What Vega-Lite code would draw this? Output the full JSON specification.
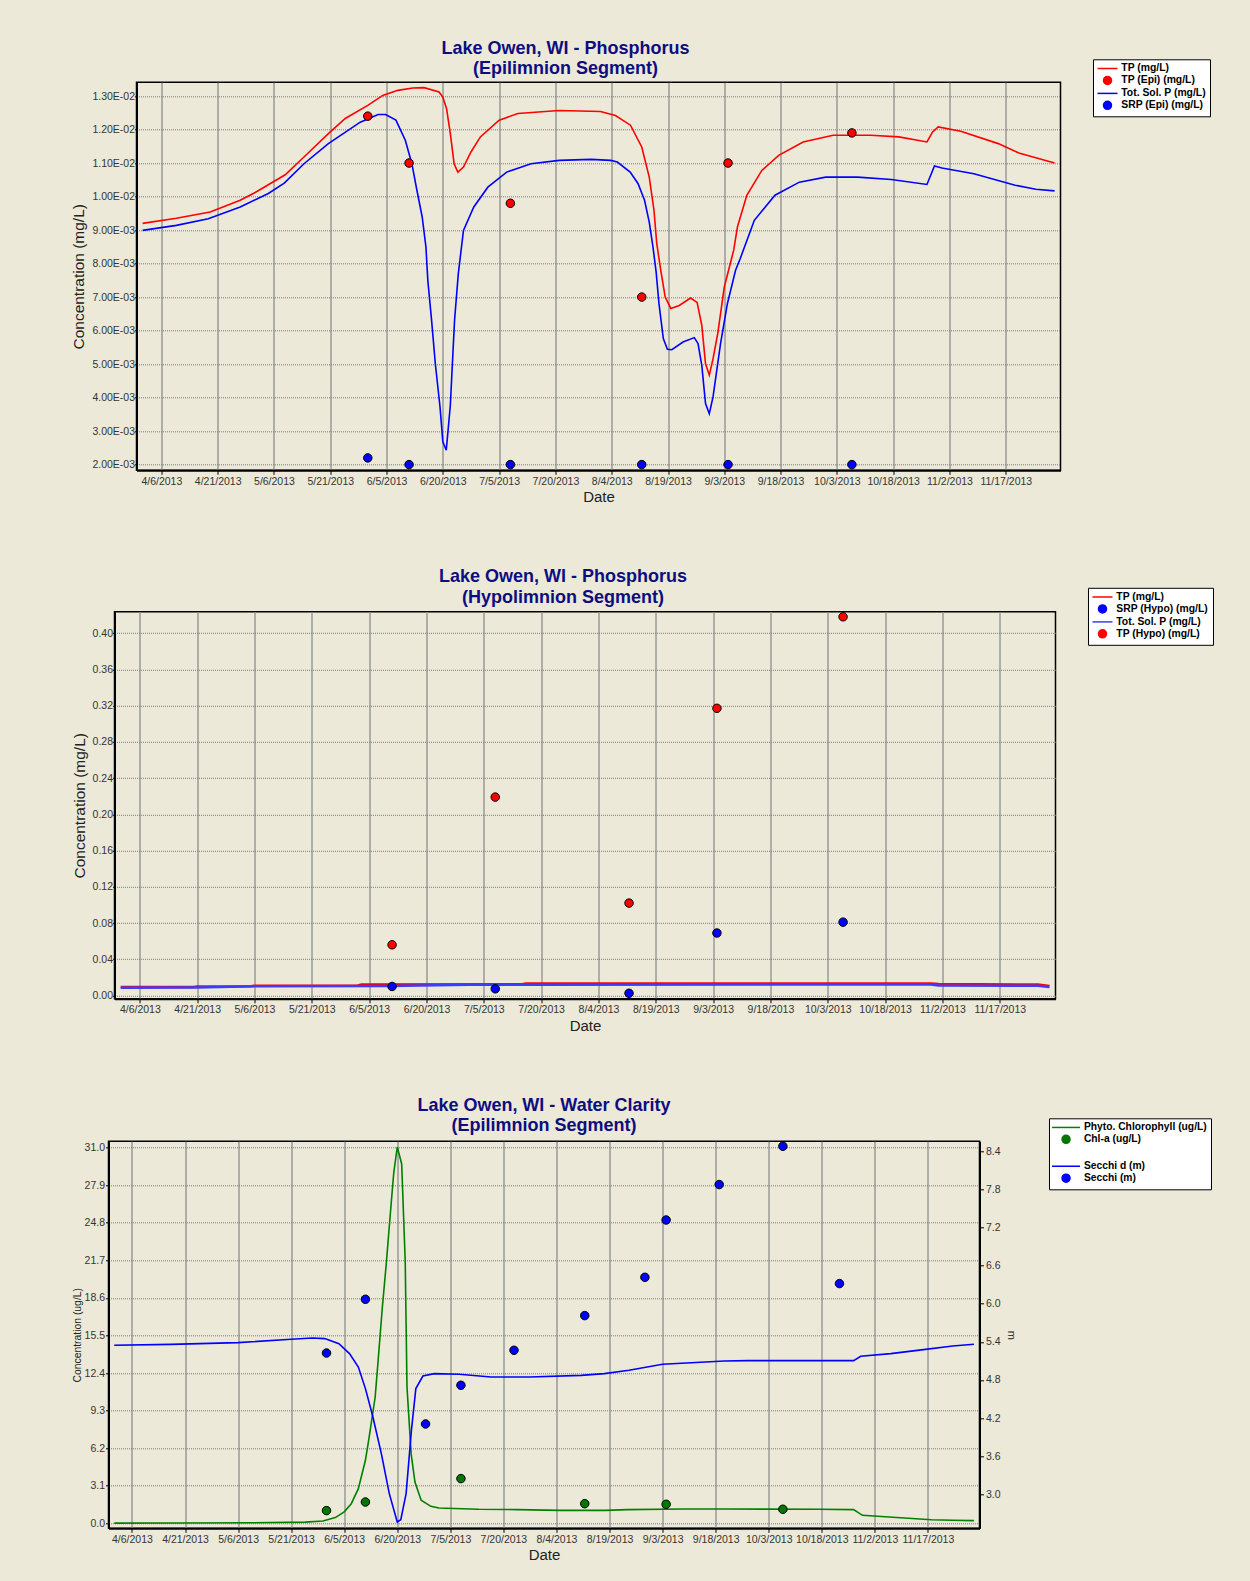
{
  "$schema": "https://vega.github.io/schema/vega-lite/v6.json",
  "background": "#ECE9D8",
  "padding": {"left": 69.5, "top": 38.3, "right": 60, "bottom": 50},
  "spacing": 60.5,
  "resolve": {"scale": {"color": "independent"}, "legend": {"color": "independent"}},
  "vconcat": [
    {"spacing": 0, "hconcat": [
    {"width": 1, "height": 1, "view": {"stroke": null}, "data": {"values": [{"a": 0}]}, "mark": {"type": "point", "opacity": 0, "size": 1}, "encoding": {}},
    {
      "name": "p1",
      "width": 924,
      "height": 388,
      "title": {"text": ["Lake Owen, WI - Phosphorus", "(Epilimnion Segment)"], "dx": -33, "dy": 1},
      "data": {"values": [
        {"d":"2013-04-01","s":"TP (mg/L)","v":0.0092},
        {"d":"2013-04-10","s":"TP (mg/L)","v":0.00935},
        {"d":"2013-04-19","s":"TP (mg/L)","v":0.00954},
        {"d":"2013-04-27","s":"TP (mg/L)","v":0.00989},
        {"d":"2013-05-01","s":"TP (mg/L)","v":0.01012},
        {"d":"2013-05-09","s":"TP (mg/L)","v":0.01065},
        {"d":"2013-05-14","s":"TP (mg/L)","v":0.01118},
        {"d":"2013-05-20T12:00:00Z","s":"TP (mg/L)","v":0.01188},
        {"d":"2013-05-25","s":"TP (mg/L)","v":0.01233},
        {"d":"2013-05-31","s":"TP (mg/L)","v":0.01272},
        {"d":"2013-06-04","s":"TP (mg/L)","v":0.01302},
        {"d":"2013-06-08","s":"TP (mg/L)","v":0.01317},
        {"d":"2013-06-12","s":"TP (mg/L)","v":0.01324},
        {"d":"2013-06-15","s":"TP (mg/L)","v":0.01325},
        {"d":"2013-06-19","s":"TP (mg/L)","v":0.01312},
        {"d":"2013-06-20","s":"TP (mg/L)","v":0.01297},
        {"d":"2013-06-21","s":"TP (mg/L)","v":0.01262},
        {"d":"2013-06-22","s":"TP (mg/L)","v":0.01188},
        {"d":"2013-06-23","s":"TP (mg/L)","v":0.01098},
        {"d":"2013-06-24","s":"TP (mg/L)","v":0.01073},
        {"d":"2013-06-25T12:00:00Z","s":"TP (mg/L)","v":0.01088},
        {"d":"2013-06-27T12:00:00Z","s":"TP (mg/L)","v":0.01133},
        {"d":"2013-06-30","s":"TP (mg/L)","v":0.01178},
        {"d":"2013-07-05","s":"TP (mg/L)","v":0.01228},
        {"d":"2013-07-10","s":"TP (mg/L)","v":0.01248},
        {"d":"2013-07-21","s":"TP (mg/L)","v":0.01257},
        {"d":"2013-08-01","s":"TP (mg/L)","v":0.01254},
        {"d":"2013-08-05","s":"TP (mg/L)","v":0.01242},
        {"d":"2013-08-09","s":"TP (mg/L)","v":0.01213},
        {"d":"2013-08-12","s":"TP (mg/L)","v":0.01148},
        {"d":"2013-08-14","s":"TP (mg/L)","v":0.01058},
        {"d":"2013-08-15T06:00:00Z","s":"TP (mg/L)","v":0.0096},
        {"d":"2013-08-16","s":"TP (mg/L)","v":0.0086},
        {"d":"2013-08-17","s":"TP (mg/L)","v":0.00785},
        {"d":"2013-08-18T06:00:00Z","s":"TP (mg/L)","v":0.007},
        {"d":"2013-08-19T18:00:00Z","s":"TP (mg/L)","v":0.00666},
        {"d":"2013-08-22","s":"TP (mg/L)","v":0.00675},
        {"d":"2013-08-25","s":"TP (mg/L)","v":0.00697},
        {"d":"2013-08-26T18:00:00Z","s":"TP (mg/L)","v":0.00684},
        {"d":"2013-08-28","s":"TP (mg/L)","v":0.00616},
        {"d":"2013-08-29","s":"TP (mg/L)","v":0.00501},
        {"d":"2013-08-30","s":"TP (mg/L)","v":0.00467},
        {"d":"2013-08-31","s":"TP (mg/L)","v":0.00516},
        {"d":"2013-09-01T06:00:00Z","s":"TP (mg/L)","v":0.00591},
        {"d":"2013-09-03","s":"TP (mg/L)","v":0.0073},
        {"d":"2013-09-05T12:00:00Z","s":"TP (mg/L)","v":0.0084},
        {"d":"2013-09-06T12:00:00Z","s":"TP (mg/L)","v":0.00909},
        {"d":"2013-09-09","s":"TP (mg/L)","v":0.01004},
        {"d":"2013-09-13","s":"TP (mg/L)","v":0.01078},
        {"d":"2013-09-17T12:00:00Z","s":"TP (mg/L)","v":0.01123},
        {"d":"2013-09-24","s":"TP (mg/L)","v":0.01163},
        {"d":"2013-10-02","s":"TP (mg/L)","v":0.01183},
        {"d":"2013-10-12","s":"TP (mg/L)","v":0.01183},
        {"d":"2013-10-19T12:00:00Z","s":"TP (mg/L)","v":0.01178},
        {"d":"2013-10-27","s":"TP (mg/L)","v":0.01163},
        {"d":"2013-10-28T12:00:00Z","s":"TP (mg/L)","v":0.01193},
        {"d":"2013-10-30","s":"TP (mg/L)","v":0.01208},
        {"d":"2013-11-05","s":"TP (mg/L)","v":0.01195},
        {"d":"2013-11-15","s":"TP (mg/L)","v":0.01158},
        {"d":"2013-11-20T12:00:00Z","s":"TP (mg/L)","v":0.0113},
        {"d":"2013-11-25","s":"TP (mg/L)","v":0.01116},
        {"d":"2013-11-30","s":"TP (mg/L)","v":0.011},
        {"d":"2013-04-01","s":"Tot. Sol. P (mg/L)","v":0.00899},
        {"d":"2013-04-10","s":"Tot. Sol. P (mg/L)","v":0.00914},
        {"d":"2013-04-18T12:00:00Z","s":"Tot. Sol. P (mg/L)","v":0.00934},
        {"d":"2013-04-27","s":"Tot. Sol. P (mg/L)","v":0.00969},
        {"d":"2013-05-04T12:00:00Z","s":"Tot. Sol. P (mg/L)","v":0.01009},
        {"d":"2013-05-08T18:00:00Z","s":"Tot. Sol. P (mg/L)","v":0.0104},
        {"d":"2013-05-14","s":"Tot. Sol. P (mg/L)","v":0.01098},
        {"d":"2013-05-20T12:00:00Z","s":"Tot. Sol. P (mg/L)","v":0.01158},
        {"d":"2013-05-29","s":"Tot. Sol. P (mg/L)","v":0.01222},
        {"d":"2013-06-02T18:00:00Z","s":"Tot. Sol. P (mg/L)","v":0.01245},
        {"d":"2013-06-04T18:00:00Z","s":"Tot. Sol. P (mg/L)","v":0.01245},
        {"d":"2013-06-07T12:00:00Z","s":"Tot. Sol. P (mg/L)","v":0.01228},
        {"d":"2013-06-10","s":"Tot. Sol. P (mg/L)","v":0.01168},
        {"d":"2013-06-11T18:00:00Z","s":"Tot. Sol. P (mg/L)","v":0.01098},
        {"d":"2013-06-13","s":"Tot. Sol. P (mg/L)","v":0.01024},
        {"d":"2013-06-14T12:00:00Z","s":"Tot. Sol. P (mg/L)","v":0.00939},
        {"d":"2013-06-15T12:00:00Z","s":"Tot. Sol. P (mg/L)","v":0.00849},
        {"d":"2013-06-16","s":"Tot. Sol. P (mg/L)","v":0.0075},
        {"d":"2013-06-17","s":"Tot. Sol. P (mg/L)","v":0.00631},
        {"d":"2013-06-18","s":"Tot. Sol. P (mg/L)","v":0.00501},
        {"d":"2013-06-19T06:00:00Z","s":"Tot. Sol. P (mg/L)","v":0.00372},
        {"d":"2013-06-20","s":"Tot. Sol. P (mg/L)","v":0.00268},
        {"d":"2013-06-20T22:00:00Z","s":"Tot. Sol. P (mg/L)","v":0.00243},
        {"d":"2013-06-22","s":"Tot. Sol. P (mg/L)","v":0.00377},
        {"d":"2013-06-23T03:00:00Z","s":"Tot. Sol. P (mg/L)","v":0.00631},
        {"d":"2013-06-24T03:00:00Z","s":"Tot. Sol. P (mg/L)","v":0.0077},
        {"d":"2013-06-25T12:00:00Z","s":"Tot. Sol. P (mg/L)","v":0.00899},
        {"d":"2013-06-28T06:00:00Z","s":"Tot. Sol. P (mg/L)","v":0.00969},
        {"d":"2013-07-02","s":"Tot. Sol. P (mg/L)","v":0.01028},
        {"d":"2013-07-07","s":"Tot. Sol. P (mg/L)","v":0.01073},
        {"d":"2013-07-13T12:00:00Z","s":"Tot. Sol. P (mg/L)","v":0.01098},
        {"d":"2013-07-21","s":"Tot. Sol. P (mg/L)","v":0.01108},
        {"d":"2013-07-29T12:00:00Z","s":"Tot. Sol. P (mg/L)","v":0.01111},
        {"d":"2013-08-03T18:00:00Z","s":"Tot. Sol. P (mg/L)","v":0.01108},
        {"d":"2013-08-05T12:00:00Z","s":"Tot. Sol. P (mg/L)","v":0.01103},
        {"d":"2013-08-08T22:00:00Z","s":"Tot. Sol. P (mg/L)","v":0.01073},
        {"d":"2013-08-11","s":"Tot. Sol. P (mg/L)","v":0.01039},
        {"d":"2013-08-12T18:00:00Z","s":"Tot. Sol. P (mg/L)","v":0.00989},
        {"d":"2013-08-14","s":"Tot. Sol. P (mg/L)","v":0.00924},
        {"d":"2013-08-15","s":"Tot. Sol. P (mg/L)","v":0.00849},
        {"d":"2013-08-15T20:00:00Z","s":"Tot. Sol. P (mg/L)","v":0.00775},
        {"d":"2013-08-16T14:00:00Z","s":"Tot. Sol. P (mg/L)","v":0.00681},
        {"d":"2013-08-17T18:00:00Z","s":"Tot. Sol. P (mg/L)","v":0.00576},
        {"d":"2013-08-18T20:00:00Z","s":"Tot. Sol. P (mg/L)","v":0.00544},
        {"d":"2013-08-20","s":"Tot. Sol. P (mg/L)","v":0.00543},
        {"d":"2013-08-23","s":"Tot. Sol. P (mg/L)","v":0.00566},
        {"d":"2013-08-26","s":"Tot. Sol. P (mg/L)","v":0.00579},
        {"d":"2013-08-27","s":"Tot. Sol. P (mg/L)","v":0.00561},
        {"d":"2013-08-28","s":"Tot. Sol. P (mg/L)","v":0.00496},
        {"d":"2013-08-29","s":"Tot. Sol. P (mg/L)","v":0.00382},
        {"d":"2013-08-30","s":"Tot. Sol. P (mg/L)","v":0.00352},
        {"d":"2013-08-31","s":"Tot. Sol. P (mg/L)","v":0.00402},
        {"d":"2013-09-01","s":"Tot. Sol. P (mg/L)","v":0.00482},
        {"d":"2013-09-02","s":"Tot. Sol. P (mg/L)","v":0.00561},
        {"d":"2013-09-03T20:00:00Z","s":"Tot. Sol. P (mg/L)","v":0.00681},
        {"d":"2013-09-06","s":"Tot. Sol. P (mg/L)","v":0.0078},
        {"d":"2013-09-07T06:00:00Z","s":"Tot. Sol. P (mg/L)","v":0.00815},
        {"d":"2013-09-11","s":"Tot. Sol. P (mg/L)","v":0.00929},
        {"d":"2013-09-16T12:00:00Z","s":"Tot. Sol. P (mg/L)","v":0.01004},
        {"d":"2013-09-23","s":"Tot. Sol. P (mg/L)","v":0.01043},
        {"d":"2013-09-30","s":"Tot. Sol. P (mg/L)","v":0.01058},
        {"d":"2013-10-08T12:00:00Z","s":"Tot. Sol. P (mg/L)","v":0.01058},
        {"d":"2013-10-17T12:00:00Z","s":"Tot. Sol. P (mg/L)","v":0.01051},
        {"d":"2013-10-27","s":"Tot. Sol. P (mg/L)","v":0.01036},
        {"d":"2013-10-29","s":"Tot. Sol. P (mg/L)","v":0.01091},
        {"d":"2013-10-31","s":"Tot. Sol. P (mg/L)","v":0.01085},
        {"d":"2013-11-08T12:00:00Z","s":"Tot. Sol. P (mg/L)","v":0.01068},
        {"d":"2013-11-19T12:00:00Z","s":"Tot. Sol. P (mg/L)","v":0.01034},
        {"d":"2013-11-25","s":"Tot. Sol. P (mg/L)","v":0.01022},
        {"d":"2013-11-30","s":"Tot. Sol. P (mg/L)","v":0.01017},
        {"d":"2013-05-31","s":"TP (Epi) (mg/L)","v":0.0124},
        {"d":"2013-06-11","s":"TP (Epi) (mg/L)","v":0.011},
        {"d":"2013-07-08","s":"TP (Epi) (mg/L)","v":0.0098},
        {"d":"2013-08-12","s":"TP (Epi) (mg/L)","v":0.007},
        {"d":"2013-09-04","s":"TP (Epi) (mg/L)","v":0.011},
        {"d":"2013-10-07","s":"TP (Epi) (mg/L)","v":0.0119},
        {"d":"2013-05-31","s":"SRP (Epi) (mg/L)","v":0.0022},
        {"d":"2013-06-11","s":"SRP (Epi) (mg/L)","v":0.002},
        {"d":"2013-07-08","s":"SRP (Epi) (mg/L)","v":0.002},
        {"d":"2013-08-12","s":"SRP (Epi) (mg/L)","v":0.002},
        {"d":"2013-09-04","s":"SRP (Epi) (mg/L)","v":0.002},
        {"d":"2013-10-07","s":"SRP (Epi) (mg/L)","v":0.002}
      ]},
      "encoding": {
        "x": {
          "field": "d", "type": "temporal", "title": "Date",
          "scale": {"type": "utc", "nice": false, "domain": [{"year":2013,"month":3,"date":30,"hours":9,"utc":true},{"year":2013,"month":12,"date":1,"hours":14,"utc":true}]},
          "axis": {"format": "%-m/%-d/%Y", "values": [{"year":2013,"month":4,"date":6,"utc":true},{"year":2013,"month":4,"date":21,"utc":true},{"year":2013,"month":5,"date":6,"utc":true},{"year":2013,"month":5,"date":21,"utc":true},{"year":2013,"month":6,"date":5,"utc":true},{"year":2013,"month":6,"date":20,"utc":true},{"year":2013,"month":7,"date":5,"utc":true},{"year":2013,"month":7,"date":20,"utc":true},{"year":2013,"month":8,"date":4,"utc":true},{"year":2013,"month":8,"date":19,"utc":true},{"year":2013,"month":9,"date":3,"utc":true},{"year":2013,"month":9,"date":18,"utc":true},{"year":2013,"month":10,"date":3,"utc":true},{"year":2013,"month":10,"date":18,"utc":true},{"year":2013,"month":11,"date":2,"utc":true},{"year":2013,"month":11,"date":17,"utc":true}]}
        },
        "y": {
          "field": "v", "type": "quantitative", "title": "Concentration (mg/L)",
          "scale": {"domain": [0.00183, 0.01341], "nice": false, "zero": false},
          "axis": {"values": [0.002,0.003,0.004,0.005,0.006,0.007,0.008,0.009,0.01,0.011,0.012,0.013], "labelExpr": "replace(format(datum.value, '.2e'), 'e-', 'E-0')", "tickSize": 2, "labelPadding": 0, "titlePadding": 5}
        },
        "color": {
          "field": "s", "type": "nominal",
          "scale": {"domain": ["TP (mg/L)", "TP (Epi) (mg/L)", "Tot. Sol. P (mg/L)", "SRP (Epi) (mg/L)"], "range": ["#FF0000", "#FF0000", "#0000FF", "#0000FF"]},
          "legend": {
            "orient": "none", "legendX": 1023.5, "legendY": -23, "title": null,
            "symbolOffset": 5.3, "labelOffset": 8.6,
            "encode": {"symbols": {"update": {
              "shape": {"signal": "indexof(['TP (mg/L)','Tot. Sol. P (mg/L)'], datum.value) >= 0 ? 'M-2.5,0L2.5,0' : 'circle'"},
              "fill": {"signal": "datum.value == 'TP (Epi) (mg/L)' ? '#FF0000' : datum.value == 'SRP (Epi) (mg/L)' ? '#0000FF' : 'transparent'"},
              "stroke": {"signal": "datum.value == 'TP (mg/L)' ? '#FF0000' : datum.value == 'Tot. Sol. P (mg/L)' ? '#0000FF' : '#000000'"}
            }}}
          }
        }
      },
      "layer": [
        {"transform": [{"filter": {"field": "s", "oneOf": ["TP (mg/L)", "Tot. Sol. P (mg/L)"]}}], "mark": {"type": "line", "strokeWidth": 1.6}},
        {"transform": [{"filter": {"field": "s", "oneOf": ["TP (Epi) (mg/L)", "SRP (Epi) (mg/L)"]}}], "mark": {"type": "point", "filled": true, "size": 72, "stroke": "#000000", "strokeWidth": 1, "opacity": 1}}
      ]
    }]},
    {"spacing": 0, "hconcat": [
    {"width": 1, "height": 1, "view": {"stroke": null}, "data": {"values": [{"a": 0}]}, "mark": {"type": "point", "opacity": 0, "size": 1}, "encoding": {}},
    {
      "name": "p2",
      "width": 941,
      "height": 387,
      "title": {"text": ["Lake Owen, WI - Phosphorus", "(Hypolimnion Segment)"], "dx": -22, "dy": 1.3},
      "data": {"values": [
        {"d":"2013-04-01","s":"TP (mg/L)","v":0.0093},
        {"d":"2013-04-20","s":"TP (mg/L)","v":0.0094},
        {"d":"2013-04-21","s":"TP (mg/L)","v":0.0099},
        {"d":"2013-05-05","s":"TP (mg/L)","v":0.0102},
        {"d":"2013-05-06","s":"TP (mg/L)","v":0.0108},
        {"d":"2013-06-02","s":"TP (mg/L)","v":0.0112},
        {"d":"2013-06-03","s":"TP (mg/L)","v":0.0122},
        {"d":"2013-07-15","s":"TP (mg/L)","v":0.0125},
        {"d":"2013-07-16","s":"TP (mg/L)","v":0.0134},
        {"d":"2013-10-30","s":"TP (mg/L)","v":0.0134},
        {"d":"2013-11-01","s":"TP (mg/L)","v":0.0126},
        {"d":"2013-11-27","s":"TP (mg/L)","v":0.0122},
        {"d":"2013-11-30","s":"TP (mg/L)","v":0.0105},
        {"d":"2013-04-01","s":"Tot. Sol. P (mg/L)","v":0.0085},
        {"d":"2013-04-21","s":"Tot. Sol. P (mg/L)","v":0.0088},
        {"d":"2013-05-06","s":"Tot. Sol. P (mg/L)","v":0.0102},
        {"d":"2013-06-10","s":"Tot. Sol. P (mg/L)","v":0.0106},
        {"d":"2013-07-01","s":"Tot. Sol. P (mg/L)","v":0.0118},
        {"d":"2013-07-15","s":"Tot. Sol. P (mg/L)","v":0.012},
        {"d":"2013-10-30","s":"Tot. Sol. P (mg/L)","v":0.0122},
        {"d":"2013-11-01","s":"Tot. Sol. P (mg/L)","v":0.011},
        {"d":"2013-11-27","s":"Tot. Sol. P (mg/L)","v":0.0108},
        {"d":"2013-11-30","s":"Tot. Sol. P (mg/L)","v":0.0094},
        {"d":"2013-06-11","s":"TP (Hypo) (mg/L)","v":0.056},
        {"d":"2013-07-08","s":"TP (Hypo) (mg/L)","v":0.219},
        {"d":"2013-08-12","s":"TP (Hypo) (mg/L)","v":0.102},
        {"d":"2013-09-04","s":"TP (Hypo) (mg/L)","v":0.317},
        {"d":"2013-10-07","s":"TP (Hypo) (mg/L)","v":0.418},
        {"d":"2013-06-11","s":"SRP (Hypo) (mg/L)","v":0.01},
        {"d":"2013-07-08","s":"SRP (Hypo) (mg/L)","v":0.0074},
        {"d":"2013-08-12","s":"SRP (Hypo) (mg/L)","v":0.0025},
        {"d":"2013-09-04","s":"SRP (Hypo) (mg/L)","v":0.069},
        {"d":"2013-10-07","s":"SRP (Hypo) (mg/L)","v":0.081}
      ]},
      "encoding": {
        "x": {
          "field": "d", "type": "temporal", "title": "Date",
          "scale": {"type": "utc", "nice": false, "domain": [{"year":2013,"month":3,"date":30,"hours":9,"utc":true},{"year":2013,"month":12,"date":1,"hours":14,"utc":true}]},
          "axis": {"format": "%-m/%-d/%Y", "values": [{"year":2013,"month":4,"date":6,"utc":true},{"year":2013,"month":4,"date":21,"utc":true},{"year":2013,"month":5,"date":6,"utc":true},{"year":2013,"month":5,"date":21,"utc":true},{"year":2013,"month":6,"date":5,"utc":true},{"year":2013,"month":6,"date":20,"utc":true},{"year":2013,"month":7,"date":5,"utc":true},{"year":2013,"month":7,"date":20,"utc":true},{"year":2013,"month":8,"date":4,"utc":true},{"year":2013,"month":8,"date":19,"utc":true},{"year":2013,"month":9,"date":3,"utc":true},{"year":2013,"month":9,"date":18,"utc":true},{"year":2013,"month":10,"date":3,"utc":true},{"year":2013,"month":10,"date":18,"utc":true},{"year":2013,"month":11,"date":2,"utc":true},{"year":2013,"month":11,"date":17,"utc":true}]}
        },
        "y": {
          "field": "v", "type": "quantitative", "title": "Concentration (mg/L)",
          "scale": {"domain": [-0.0036, 0.4235], "nice": false, "zero": false},
          "axis": {"values": [0,0.04,0.08,0.12,0.16,0.2,0.24,0.28,0.32,0.36,0.4], "format": ".2f", "tickSize": 2, "labelPadding": 0, "titlePadding": 5}
        },
        "color": {
          "field": "s", "type": "nominal",
          "scale": {"domain": ["TP (mg/L)", "SRP (Hypo) (mg/L)", "Tot. Sol. P (mg/L)", "TP (Hypo) (mg/L)"], "range": ["#FF0000", "#0000FF", "#3C3CFF", "#FF0000"]},
          "legend": {
            "orient": "none", "legendX": 1018.5, "legendY": -24, "title": null,
            "symbolOffset": 5.3, "labelOffset": 8.6,
            "encode": {"symbols": {"update": {
              "shape": {"signal": "indexof(['TP (mg/L)','Tot. Sol. P (mg/L)'], datum.value) >= 0 ? 'M-2.5,0L2.5,0' : 'circle'"},
              "fill": {"signal": "datum.value == 'SRP (Hypo) (mg/L)' ? '#0000FF' : datum.value == 'TP (Hypo) (mg/L)' ? '#FF0000' : 'transparent'"},
              "stroke": {"signal": "datum.value == 'TP (mg/L)' ? '#FF0000' : datum.value == 'Tot. Sol. P (mg/L)' ? '#3C3CFF' : '#000000'"}
            }}}
          }
        }
      },
      "layer": [
        {"transform": [{"filter": {"field": "s", "oneOf": ["TP (mg/L)", "Tot. Sol. P (mg/L)"]}}], "mark": {"type": "line", "strokeWidth": 2.5}},
        {"transform": [{"filter": {"field": "s", "oneOf": ["TP (Hypo) (mg/L)", "SRP (Hypo) (mg/L)"]}}], "mark": {"type": "point", "filled": true, "size": 72, "stroke": "#000000", "strokeWidth": 1, "opacity": 1}}
      ]
    }]},
    {"spacing": 0, "hconcat": [
    {"width": 1, "height": 1, "view": {"stroke": null}, "data": {"values": [{"a": 0}]}, "mark": {"type": "point", "opacity": 0, "size": 1}, "encoding": {}},
    {
      "name": "p3",
      "width": 871,
      "height": 387,
      "title": {"text": ["Lake Owen, WI - Water Clarity", "(Epilimnion Segment)"], "dx": 0, "dy": 0.3},
      "data": {"values": [
        {"d":"2013-04-01","s":"Phyto. Chlorophyll (ug/L)","v":0.02},
        {"d":"2013-04-20","s":"Phyto. Chlorophyll (ug/L)","v":0.03},
        {"d":"2013-05-10","s":"Phyto. Chlorophyll (ug/L)","v":0.05},
        {"d":"2013-05-25","s":"Phyto. Chlorophyll (ug/L)","v":0.1},
        {"d":"2013-05-30","s":"Phyto. Chlorophyll (ug/L)","v":0.19},
        {"d":"2013-06-02T12:00:00Z","s":"Phyto. Chlorophyll (ug/L)","v":0.47},
        {"d":"2013-06-05","s":"Phyto. Chlorophyll (ug/L)","v":0.95},
        {"d":"2013-06-07","s":"Phyto. Chlorophyll (ug/L)","v":1.62},
        {"d":"2013-06-09","s":"Phyto. Chlorophyll (ug/L)","v":2.86},
        {"d":"2013-06-11","s":"Phyto. Chlorophyll (ug/L)","v":5.2},
        {"d":"2013-06-12","s":"Phyto. Chlorophyll (ug/L)","v":7.0},
        {"d":"2013-06-13T18:00:00Z","s":"Phyto. Chlorophyll (ug/L)","v":10.4},
        {"d":"2013-06-14T18:00:00Z","s":"Phyto. Chlorophyll (ug/L)","v":14.0},
        {"d":"2013-06-15T18:00:00Z","s":"Phyto. Chlorophyll (ug/L)","v":17.7},
        {"d":"2013-06-16T22:00:00Z","s":"Phyto. Chlorophyll (ug/L)","v":21.5},
        {"d":"2013-06-18","s":"Phyto. Chlorophyll (ug/L)","v":25.4},
        {"d":"2013-06-19","s":"Phyto. Chlorophyll (ug/L)","v":28.9},
        {"d":"2013-06-20","s":"Phyto. Chlorophyll (ug/L)","v":31.05},
        {"d":"2013-06-21T06:00:00Z","s":"Phyto. Chlorophyll (ug/L)","v":29.65},
        {"d":"2013-06-22T06:00:00Z","s":"Phyto. Chlorophyll (ug/L)","v":21.6},
        {"d":"2013-06-22T18:00:00Z","s":"Phyto. Chlorophyll (ug/L)","v":11.25},
        {"d":"2013-06-23T22:00:00Z","s":"Phyto. Chlorophyll (ug/L)","v":5.75},
        {"d":"2013-06-25","s":"Phyto. Chlorophyll (ug/L)","v":3.41},
        {"d":"2013-06-26T18:00:00Z","s":"Phyto. Chlorophyll (ug/L)","v":1.9},
        {"d":"2013-06-29T12:00:00Z","s":"Phyto. Chlorophyll (ug/L)","v":1.4},
        {"d":"2013-07-01T18:00:00Z","s":"Phyto. Chlorophyll (ug/L)","v":1.27},
        {"d":"2013-07-13","s":"Phyto. Chlorophyll (ug/L)","v":1.16},
        {"d":"2013-07-24","s":"Phyto. Chlorophyll (ug/L)","v":1.13},
        {"d":"2013-08-05","s":"Phyto. Chlorophyll (ug/L)","v":1.07},
        {"d":"2013-08-18","s":"Phyto. Chlorophyll (ug/L)","v":1.07},
        {"d":"2013-08-24","s":"Phyto. Chlorophyll (ug/L)","v":1.13},
        {"d":"2013-09-09","s":"Phyto. Chlorophyll (ug/L)","v":1.18},
        {"d":"2013-09-21","s":"Phyto. Chlorophyll (ug/L)","v":1.18},
        {"d":"2013-10-17","s":"Phyto. Chlorophyll (ug/L)","v":1.16},
        {"d":"2013-10-27","s":"Phyto. Chlorophyll (ug/L)","v":1.13},
        {"d":"2013-10-29T12:00:00Z","s":"Phyto. Chlorophyll (ug/L)","v":0.66},
        {"d":"2013-11-06","s":"Phyto. Chlorophyll (ug/L)","v":0.52},
        {"d":"2013-11-18","s":"Phyto. Chlorophyll (ug/L)","v":0.3},
        {"d":"2013-11-24","s":"Phyto. Chlorophyll (ug/L)","v":0.25},
        {"d":"2013-11-30","s":"Phyto. Chlorophyll (ug/L)","v":0.22},
        {"d":"2013-05-31","s":"Chl-a (ug/L)","v":1.05},
        {"d":"2013-06-11","s":"Chl-a (ug/L)","v":1.76},
        {"d":"2013-07-08","s":"Chl-a (ug/L)","v":3.69},
        {"d":"2013-08-12","s":"Chl-a (ug/L)","v":1.62},
        {"d":"2013-09-04","s":"Chl-a (ug/L)","v":1.57},
        {"d":"2013-10-07","s":"Chl-a (ug/L)","v":1.16},
        {"d":"2013-04-01","s":"Secchi d (m)","v":5.346},
        {"d":"2013-04-17","s":"Secchi d (m)","v":5.361},
        {"d":"2013-05-06","s":"Secchi d (m)","v":5.388},
        {"d":"2013-05-21","s":"Secchi d (m)","v":5.44},
        {"d":"2013-05-27","s":"Secchi d (m)","v":5.461},
        {"d":"2013-05-30T12:00:00Z","s":"Secchi d (m)","v":5.451},
        {"d":"2013-06-03T12:00:00Z","s":"Secchi d (m)","v":5.372},
        {"d":"2013-06-06T12:00:00Z","s":"Secchi d (m)","v":5.215},
        {"d":"2013-06-09","s":"Secchi d (m)","v":5.004},
        {"d":"2013-06-11","s":"Secchi d (m)","v":4.664},
        {"d":"2013-06-13","s":"Secchi d (m)","v":4.244},
        {"d":"2013-06-15T12:00:00Z","s":"Secchi d (m)","v":3.64},
        {"d":"2013-06-17T18:00:00Z","s":"Secchi d (m)","v":3.011},
        {"d":"2013-06-20","s":"Secchi d (m)","v":2.564},
        {"d":"2013-06-21","s":"Secchi d (m)","v":2.6},
        {"d":"2013-06-22T12:00:00Z","s":"Secchi d (m)","v":3.011},
        {"d":"2013-06-24","s":"Secchi d (m)","v":4.007},
        {"d":"2013-06-25T06:00:00Z","s":"Secchi d (m)","v":4.664},
        {"d":"2013-06-27T06:00:00Z","s":"Secchi d (m)","v":4.862},
        {"d":"2013-06-30T12:00:00Z","s":"Secchi d (m)","v":4.9},
        {"d":"2013-07-07T12:00:00Z","s":"Secchi d (m)","v":4.889},
        {"d":"2013-07-16T12:00:00Z","s":"Secchi d (m)","v":4.847},
        {"d":"2013-07-27T12:00:00Z","s":"Secchi d (m)","v":4.847},
        {"d":"2013-08-11","s":"Secchi d (m)","v":4.873},
        {"d":"2013-08-17T12:00:00Z","s":"Secchi d (m)","v":4.9},
        {"d":"2013-08-24T12:00:00Z","s":"Secchi d (m)","v":4.952},
        {"d":"2013-09-03","s":"Secchi d (m)","v":5.047},
        {"d":"2013-09-20T12:00:00Z","s":"Secchi d (m)","v":5.099},
        {"d":"2013-09-27","s":"Secchi d (m)","v":5.105},
        {"d":"2013-10-27","s":"Secchi d (m)","v":5.105},
        {"d":"2013-10-29","s":"Secchi d (m)","v":5.173},
        {"d":"2013-11-06T12:00:00Z","s":"Secchi d (m)","v":5.215},
        {"d":"2013-11-15T18:00:00Z","s":"Secchi d (m)","v":5.278},
        {"d":"2013-11-24","s":"Secchi d (m)","v":5.335},
        {"d":"2013-11-30","s":"Secchi d (m)","v":5.361},
        {"d":"2013-05-31","s":"Secchi (m)","v":5.224},
        {"d":"2013-06-11","s":"Secchi (m)","v":6.07},
        {"d":"2013-06-28","s":"Secchi (m)","v":4.107},
        {"d":"2013-07-08","s":"Secchi (m)","v":4.716},
        {"d":"2013-07-23","s":"Secchi (m)","v":5.267},
        {"d":"2013-08-12","s":"Secchi (m)","v":5.813},
        {"d":"2013-08-29","s":"Secchi (m)","v":6.416},
        {"d":"2013-09-04","s":"Secchi (m)","v":7.318},
        {"d":"2013-09-19","s":"Secchi (m)","v":7.876},
        {"d":"2013-10-07","s":"Secchi (m)","v":8.479},
        {"d":"2013-10-23","s":"Secchi (m)","v":6.317}
      ]},
      "encoding": {
        "x": {
          "field": "d", "type": "temporal", "title": "Date",
          "scale": {"type": "utc", "nice": false, "domain": [{"year":2013,"month":3,"date":30,"hours":9,"utc":true},{"year":2013,"month":12,"date":1,"hours":14,"utc":true}]},
          "axis": {"format": "%-m/%-d/%Y", "values": [{"year":2013,"month":4,"date":6,"utc":true},{"year":2013,"month":4,"date":21,"utc":true},{"year":2013,"month":5,"date":6,"utc":true},{"year":2013,"month":5,"date":21,"utc":true},{"year":2013,"month":6,"date":5,"utc":true},{"year":2013,"month":6,"date":20,"utc":true},{"year":2013,"month":7,"date":5,"utc":true},{"year":2013,"month":7,"date":20,"utc":true},{"year":2013,"month":8,"date":4,"utc":true},{"year":2013,"month":8,"date":19,"utc":true},{"year":2013,"month":9,"date":3,"utc":true},{"year":2013,"month":9,"date":18,"utc":true},{"year":2013,"month":10,"date":3,"utc":true},{"year":2013,"month":10,"date":18,"utc":true},{"year":2013,"month":11,"date":2,"utc":true},{"year":2013,"month":11,"date":17,"utc":true}]}
        },
        "color": {
          "field": "s", "type": "nominal",
          "scale": {"domain": ["Phyto. Chlorophyll (ug/L)", "Chl-a (ug/L)", " ", "Secchi d (m)", "Secchi (m)"], "range": ["#008000", "#007800", "transparent", "#0000FF", "#0000FF"]},
          "legend": {
            "orient": "none", "legendX": 979.5, "legendY": -23, "title": null,
            "symbolOffset": 7.9, "labelOffset": 12.7, "labelFontSize": 10.3,
            "encode": {"symbols": {"update": {
              "shape": {"signal": "indexof(['Phyto. Chlorophyll (ug/L)','Secchi d (m)'], datum.value) >= 0 ? 'M-3.5,0L3.5,0' : 'circle'"},
              "fill": {"signal": "datum.value == 'Chl-a (ug/L)' ? '#007800' : datum.value == 'Secchi (m)' ? '#0000FF' : 'transparent'"},
              "stroke": {"signal": "datum.value == 'Phyto. Chlorophyll (ug/L)' ? '#008000' : datum.value == 'Secchi d (m)' ? '#0000FF' : datum.value == ' ' ? 'transparent' : '#000000'"}
            }}}
          }
        }
      },
      "layer": [
        {
          "encoding": {"y": {
            "field": "v", "type": "quantitative", "title": "Concentration (ug/L)",
            "scale": {"domain": [-0.41, 31.52], "nice": false, "zero": false},
            "axis": {"values": [0,3.1,6.2,9.3,12.4,15.5,18.6,21.7,24.8,27.9,31], "format": ".1f", "tickSize": 3, "labelPadding": 1, "titlePadding": 2, "titleFontSize": 10.4}
          }},
          "layer": [
            {"transform": [{"filter": {"field": "s", "equal": "Phyto. Chlorophyll (ug/L)"}}], "mark": {"type": "line", "strokeWidth": 1.6}},
            {"transform": [{"filter": {"field": "s", "equal": "Chl-a (ug/L)"}}], "mark": {"type": "point", "filled": true, "size": 72, "stroke": "#000000", "strokeWidth": 1, "opacity": 1}}
          ]
        },
        {
          "encoding": {"y": {
            "field": "v", "type": "quantitative", "title": "m",
            "scale": {"domain": [2.465, 8.557], "nice": false, "zero": false},
            "axis": {"orient": "right", "grid": false, "values": [3,3.6,4.2,4.8,5.4,6,6.6,7.2,7.8,8.4], "format": ".1f", "tickSize": 4, "labelPadding": 2, "titlePadding": 5, "titleFontSize": 11}
          }},
          "layer": [
            {"transform": [{"filter": {"field": "s", "equal": "Secchi d (m)"}}], "mark": {"type": "line", "strokeWidth": 1.6}},
            {"transform": [{"filter": {"field": "s", "equal": "Secchi (m)"}}], "mark": {"type": "point", "filled": true, "size": 72, "stroke": "#000000", "strokeWidth": 1, "opacity": 1}}
          ]
        }
      ],
      "resolve": {"scale": {"y": "independent"}}
    }]}
  ],
  "config": {
    "font": "Liberation Sans",
    "view": {"stroke": "#000000", "strokeWidth": 1.5},
    "title": {"font": "Liberation Sans", "fontSize": 18, "fontWeight": "bold", "color": "#0D0D80", "anchor": "middle", "frame": "group", "lineHeight": 20.5, "offset": 5, "baseline": "bottom"},
    "axis": {"labelFont": "Liberation Sans", "labelFontSize": 10.5, "labelColor": "#333333", "titleFont": "Liberation Sans", "titleFontWeight": "normal", "titleColor": "#222222", "domainColor": "#000000", "domainWidth": 2, "tickColor": "#000000", "labelOverlap": false, "labelFlush": false},
    "axisX": {"grid": true, "gridColor": "#9A9A9A", "gridWidth": 1.5, "labelAngle": 0, "titleFontSize": 15, "tickSize": 4, "labelPadding": 2, "titlePadding": 3},
    "axisY": {"grid": true, "gridColor": "#7A7A7A", "gridDash": [1, 1], "gridWidth": 1, "titleFontSize": 15.5},
    "legend": {"fillColor": "#FFFFFF", "strokeColor": "#000000", "padding": 4, "labelFont": "Liberation Sans", "labelFontSize": 10.4, "labelFontWeight": "bold", "labelColor": "#000000", "rowPadding": -1.1, "symbolSize": 64, "symbolStrokeWidth": 1.5, "labelLimit": 300}
  }
}
